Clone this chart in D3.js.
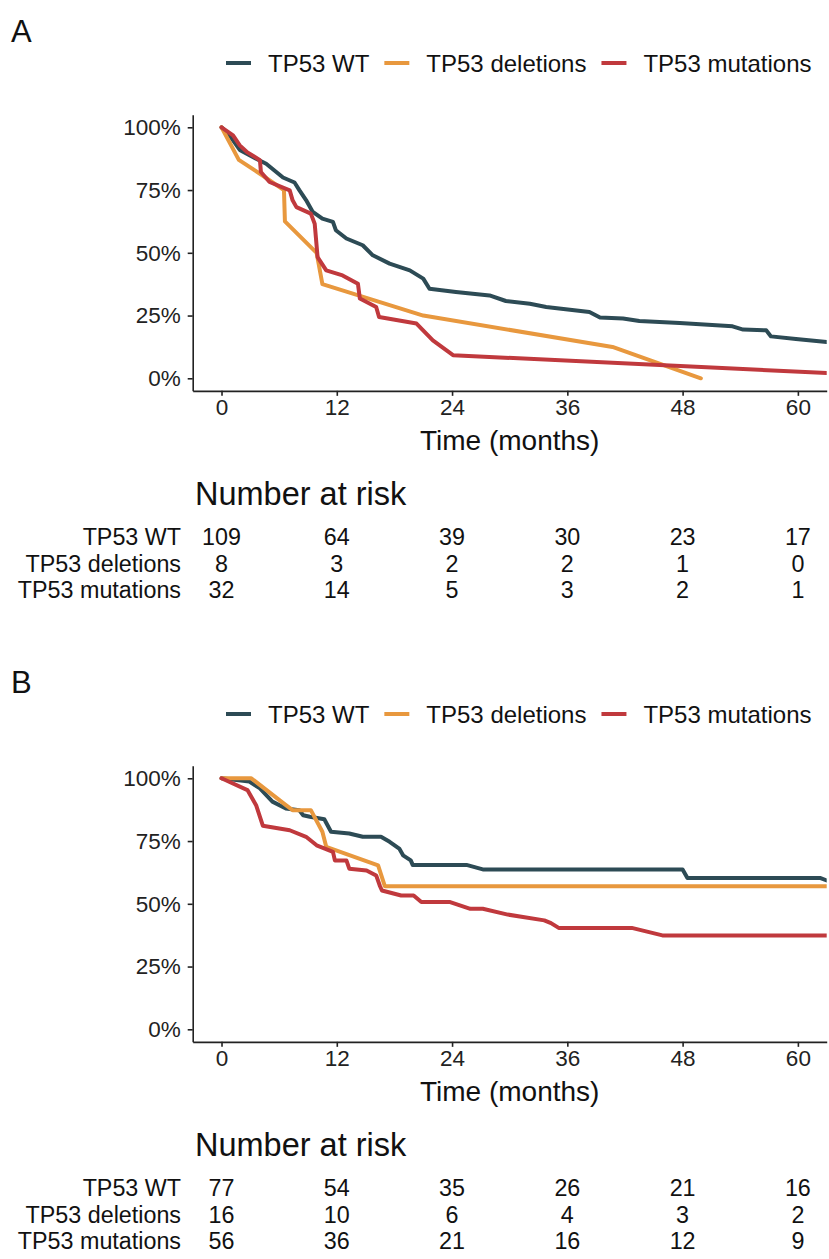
<!DOCTYPE html>
<html>
<head>
<meta charset="utf-8">
<script src="https://cdn.jsdelivr.net/npm/d3@7"></script>
<style>
  body { margin: 0; background: #fff; }
  svg { display: block; font-family: "Liberation Sans", Arial, sans-serif; }
</style>
</head>
<body>
<div id="chart"></div>
<script>
// groups, colours and break points
var groups = ["TP53 WT", "TP53 deletions", "TP53 mutations"];
var colors = ["#2d4b55", "#e8983e", "#c0393d"];
var timeTicks = [0, 12, 24, 36, 48, 60];
var survTicks = [0, 0.25, 0.5, 0.75, 1];

// panel A curves [months, survival]
var wtA = [[0,1],[0.8,0.97],[1.9,0.91],[3.6,0.875],[4.65,0.855],[6.4,0.8],[7.6,0.78],[8.1,0.75],[8.8,0.71],[9.5,0.663],[10.5,0.636],[11.6,0.623],[11.9,0.59],[13.0,0.557],[14.7,0.53],[15.75,0.49],[17.5,0.457],[19.6,0.43],[21.0,0.397],[21.65,0.357],[24.4,0.344],[27.9,0.33],[29.6,0.308],[32.1,0.297],[33.8,0.284],[38.3,0.264],[39.4,0.242],[41.8,0.238],[43.5,0.228],[47.7,0.22],[53.2,0.207],[54.3,0.194],[56.7,0.191],[57.2,0.167],[59.8,0.157],[63,0.145]];
var delA = [[0,1],[1.8,0.87],[4.0,0.815],[6.5,0.75],[6.6,0.625],[9.9,0.5],[10.5,0.375],[21,0.25],[40.7,0.125],[49.9,0]];
var mutA = [[0,1],[1.2,0.968],[1.9,0.928],[2.7,0.9],[4.0,0.869],[4.1,0.822],[5.0,0.782],[7.1,0.749],[7.4,0.709],[7.8,0.682],[9.3,0.656],[9.7,0.616],[10.0,0.483],[10.9,0.43],[12.6,0.41],[14.2,0.377],[14.4,0.318],[16.1,0.284],[16.4,0.244],[20.3,0.218],[22.0,0.151],[24.1,0.092],[63,0.021]];

// panel B curves
var wtB = [[0,1],[2.9,0.987],[4.0,0.96],[5.3,0.907],[6.7,0.88],[8.1,0.873],[8.5,0.853],[9.2,0.847],[10.7,0.837],[11.4,0.787],[13.3,0.78],[14.7,0.767],[16.6,0.767],[17.5,0.747],[18.5,0.72],[18.9,0.693],[19.7,0.673],[19.9,0.655],[25.5,0.655],[27.2,0.637],[48.0,0.637],[48.5,0.603],[62.3,0.603],[63,0.593]];
var delB = [[0,1],[3.1,1],[6.7,0.893],[7.4,0.873],[9.3,0.873],[10.5,0.787],[10.9,0.727],[16.3,0.653],[17.0,0.57],[63,0.57]];
var mutB = [[0,1],[2.7,0.953],[3.6,0.893],[4.3,0.811],[7.1,0.793],[8.8,0.767],[9.9,0.733],[11.6,0.707],[11.8,0.673],[13.0,0.673],[13.3,0.64],[15.1,0.633],[16.1,0.613],[16.5,0.57],[16.7,0.553],[18.7,0.533],[20.0,0.533],[20.8,0.507],[23.8,0.507],[25.9,0.48],[27.2,0.48],[29.8,0.457],[33.6,0.434],[34.3,0.423],[35.1,0.404],[42.7,0.404],[45.9,0.374],[63,0.374]];

// number at risk
var riskWtA = [109, 64, 39, 30, 23, 17];
var riskDelA = [8, 3, 2, 2, 1, 0];
var riskMutA = [32, 14, 5, 3, 2, 1];
var riskWtB = [77, 54, 35, 26, 21, 16];
var riskDelB = [16, 10, 6, 4, 3, 2];
var riskMutB = [56, 36, 21, 16, 12, 9];

var width = 829, height = 1259;

var svg = d3.select('#chart')
    .append('svg')
    .attr('width', width)
    .attr('height', height);

svg.append('rect').attr('width', width).attr('height', height).attr('fill', '#fff');

var x = d3.scaleLinear().domain([-3, 63]).range([192.7, 826.7]);
var y = d3.scaleLinear().domain([-0.05, 1.05]).range([390.85, 114.75]);

var line = d3.line()
    .x(function (d) { return x(d[0]); })
    .y(function (d) { return y(d[1]); });

svg.append('clipPath').attr('id', 'plotclip')
    .append('rect')
    .attr('x', x(-3)).attr('y', y(1.05))
    .attr('width', x(63) - x(-3)).attr('height', y(-0.05) - y(1.05));

function drawPanel(offset, letter, curves, risk) {
    var g = svg.append('g').attr('transform', 'translate(0,' + offset + ')');

    g.append('text')
        .attr('x', 11).attr('y', 42)
        .attr('font-size', 31).attr('fill', '#111')
        .text(letter);

    // legend
    var lx = 226;
    groups.forEach(function (name, i) {
        g.append('line')
            .attr('x1', lx).attr('x2', lx + 25)
            .attr('y1', 63).attr('y2', 63)
            .attr('stroke', colors[i]).attr('stroke-width', 4);
        var t = g.append('text')
            .attr('x', lx + 42).attr('y', 63)
            .attr('dy', '0.36em')
            .attr('font-size', 24).attr('fill', '#111')
            .text(name);
        lx += 42 + t.node().getComputedTextLength() + 15;
    });

    // curves
    var plot = g.append('g').attr('clip-path', 'url(#plotclip)');
    curves.forEach(function (c, i) {
        plot.append('path')
            .datum(c)
            .attr('d', line)
            .attr('fill', 'none')
            .attr('stroke', colors[i])
            .attr('stroke-width', 4)
            .attr('stroke-linejoin', 'round')
            .attr('stroke-linecap', 'round');
    });

    // axes
    var yAxis = g.append('g')
        .attr('transform', 'translate(' + x(-3) + ',0)')
        .call(d3.axisLeft(y).tickValues(survTicks).tickFormat(d3.format('.0%'))
            .tickSize(5).tickSizeOuter(0).tickPadding(7));
    var xAxis = g.append('g')
        .attr('transform', 'translate(0,' + y(-0.05) + ')')
        .call(d3.axisBottom(x).tickValues(timeTicks)
            .tickSize(5).tickSizeOuter(0).tickPadding(3));
    [yAxis, xAxis].forEach(function (a) {
        a.selectAll('path, line').attr('stroke', '#222').attr('stroke-width', 1.6);
        a.selectAll('text').attr('font-size', 22.5).attr('fill', '#222')
            .attr('font-family', '"Liberation Sans", Arial, sans-serif');
    });

    g.append('text')
        .attr('x', (x(-3) + x(63)) / 2).attr('y', 440)
        .attr('dy', '0.36em').attr('text-anchor', 'middle')
        .attr('font-size', 28).attr('fill', '#111')
        .text('Time (months)');

    // risk table
    g.append('text')
        .attr('x', 195).attr('y', 493)
        .attr('dy', '0.36em')
        .attr('font-size', 32.5).attr('fill', '#111')
        .text('Number at risk');

    var rowY = [537, 563.5, 590];
    risk.forEach(function (row, i) {
        g.append('text')
            .attr('x', 181).attr('y', rowY[i])
            .attr('dy', '0.36em').attr('text-anchor', 'end')
            .attr('font-size', 23.3).attr('fill', '#111')
            .text(groups[i]);
        g.selectAll(null)
            .data(row)
            .enter()
            .append('text')
            .attr('x', function (d, j) { return x(timeTicks[j]); })
            .attr('y', rowY[i])
            .attr('dy', '0.36em').attr('text-anchor', 'middle')
            .attr('font-size', 23.3).attr('fill', '#111')
            .text(function (d) { return d; });
    });
}

drawPanel(0, 'A', [wtA, delA, mutA], [riskWtA, riskDelA, riskMutA]);
drawPanel(651, 'B', [wtB, delB, mutB], [riskWtB, riskDelB, riskMutB]);
</script>
</body>
</html>
